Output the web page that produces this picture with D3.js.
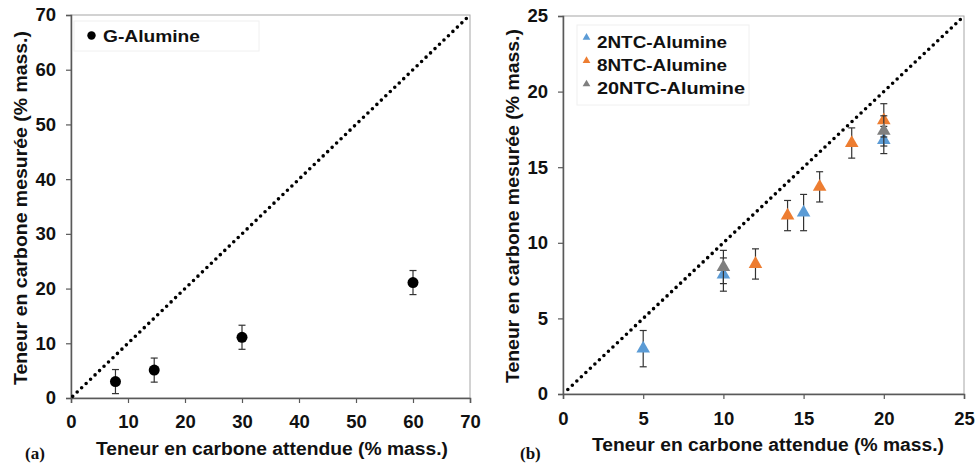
<!DOCTYPE html>
<html><head><meta charset="utf-8">
<script src="https://cdn.jsdelivr.net/npm/d3@7"></script>
<style>
body{margin:0;background:#fff;}
text{font-family:"Liberation Sans",Arial,sans-serif;}
</style></head>
<body><svg id="c" width="977" height="465"></svg>
<script>
// Panel (a)
const gX = [7.8, 14.6, 30, 60];
const gY = [3.0, 5.1, 11.1, 21.1];
const gErr = [2.2, 2.2, 2.2, 2.2];
const aTicks = [0, 10, 20, 30, 40, 50, 60, 70];
// Panel (b)
const ntc2X = [5, 10, 15, 20];
const ntc2Y = [3.0, 7.9, 12.0, 16.8];
const ntc2Err = [1.2, 1.1, 1.2, 0.9];
const ntc8X = [12, 14, 16, 18, 20];
const ntc8Y = [8.6, 11.8, 13.7, 16.6, 18.1];
const ntc8Err = [1.0, 1.0, 1.0, 1.0, 1.1];
const ntc20X = [10, 20];
const ntc20Y = [8.4, 17.4];
const ntc20Err = [1.1, 1.0];
const bTicks = [0, 5, 10, 15, 20, 25];
const seriesNames = ["2NTC-Alumine", "8NTC-Alumine", "20NTC-Alumine"];
const seriesColors = ["#5b9bd5", "#ed7d31", "#7f7f7f"];
const xTitle = "Teneur en carbone attendue (% mass.)";
const yTitle = "Teneur en carbone mesurée (% mass.)";

const svg = d3.select("#c");

function panel(opt) {
  const x = d3.scaleLinear().domain(opt.domain).range(opt.xr);
  const y = d3.scaleLinear().domain(opt.domain).range(opt.yr);
  const g = svg.append("g");
  g.append("rect").attr("x", opt.xr[0]).attr("y", opt.yr[1])
    .attr("width", opt.xr[1] - opt.xr[0]).attr("height", opt.yr[0] - opt.yr[1])
    .attr("fill", "none").attr("stroke", "#a6a6a6").attr("stroke-width", 1);
  const xa = g.append("g").attr("transform", `translate(0,${opt.yr[0]})`)
    .call(d3.axisBottom(x).tickValues(opt.ticks).tickSize(5).tickPadding(opt.xpad));
  const ya = g.append("g").attr("transform", `translate(${opt.xr[0]},0)`)
    .call(d3.axisLeft(y).tickValues(opt.ticks).tickSize(5).tickPadding(opt.ypad));
  [xa, ya].forEach(a => {
    a.select(".domain").attr("stroke", "#595959").attr("stroke-width", 1.5);
    a.selectAll(".tick line").attr("stroke", "#595959").attr("stroke-width", 1.2);
    a.selectAll(".tick text").attr("fill", "#111").style("font-size", "18.5px").style("font-weight", "bold");
  });
  g.append("line").attr("x1", x(0.3)).attr("y1", y(0.3)).attr("x2", x(opt.domain[1])).attr("y2", y(opt.domain[1]))
    .attr("stroke", "#000").attr("stroke-width", 3.6).attr("stroke-linecap", "round")
    .attr("stroke-dasharray", "0 6.2");
  g.append("text").attr("x", opt.xtc).attr("y", opt.yr[0] + 57)
    .attr("text-anchor", "middle").style("font-size", "18px").style("font-weight", "bold").attr("fill", "#111")
    .attr("textLength", opt.xtl).attr("lengthAdjust", "spacingAndGlyphs")
    .text(xTitle);
  g.append("text").attr("transform", `translate(${opt.ytx},${opt.ytc}) rotate(-90)`)
    .attr("text-anchor", "middle").attr("dy", "0.35em").style("font-size", "18px").style("font-weight", "bold").attr("fill", "#111")
    .attr("textLength", 354).attr("lengthAdjust", "spacingAndGlyphs")
    .text(yTitle);
  g.append("text").attr("x", opt.lab[0]).attr("y", opt.lab[1])
    .style("font-family", "'Liberation Serif','Times New Roman',serif").style("font-size", "17px").style("font-weight", "bold")
    .attr("fill", "#111").text(opt.label);
  return {g, x, y};
}

function errBars(g, x, y, xs, ys, es) {
  xs.forEach((xv, i) => {
    const cx = x(xv), t = y(ys[i] + es[i]), b = y(ys[i] - es[i]);
    g.append("line").attr("x1", cx).attr("x2", cx).attr("y1", t).attr("y2", b).attr("stroke", "#333").attr("stroke-width", 1.2);
    [t, b].forEach(v => g.append("line").attr("x1", cx - 3.5).attr("x2", cx + 3.5).attr("y1", v).attr("y2", v).attr("stroke", "#333").attr("stroke-width", 1.2));
  });
}

// Panel a
const A = panel({domain: [0, 70], xr: [71, 470], yr: [398, 15], ticks: aTicks, xpad: 12, ypad: 10, ytx: 21, ytc: 208, xtc: 272, xtl: 352, lab: [25, 459], label: "(a)"});
errBars(A.g, A.x, A.y, gX, gY, gErr);
gX.forEach((xv, i) => A.g.append("circle").attr("cx", A.x(xv)).attr("cy", A.y(gY[i])).attr("r", 5.5).attr("fill", "#000"));
A.g.append("rect").attr("x", 74).attr("y", 21).attr("width", 185).attr("height", 30).attr("fill", "#fff").attr("stroke", "#f0f0f0");
A.g.append("circle").attr("cx", 91.5).attr("cy", 35.5).attr("r", 4.2).attr("fill", "#000");
A.g.append("text").attr("x", 103).attr("y", 41.5).style("font-size", "17px").style("font-weight", "bold").attr("fill", "#111")
  .attr("textLength", 97).attr("lengthAdjust", "spacingAndGlyphs").text("G-Alumine");

// Panel b
const B = panel({domain: [0, 25], xr: [563, 964], yr: [394, 16], ticks: bTicks, xpad: 13, ypad: 10, ytx: 513, ytc: 206, xtc: 768, xtl: 352, lab: [520, 459], label: "(b)"});
const tri = d3.symbol().type(d3.symbolTriangle);
const bSeries = [[ntc2X, ntc2Y, ntc2Err], [ntc8X, ntc8Y, ntc8Err], [ntc20X, ntc20Y, ntc20Err]];
bSeries.forEach((s, k) => {
  errBars(B.g, B.x, B.y, s[0], s[1], s[2]);
  s[0].forEach((xv, i) => B.g.append("path").attr("d", tri.size(80)())
    .attr("transform", `translate(${B.x(xv)},${B.y(s[1][i])})`).attr("fill", seriesColors[k]));
});
B.g.append("rect").attr("x", 577).attr("y", 25).attr("width", 172).attr("height", 80).attr("fill", "#fff").attr("stroke", "#f0f0f0");
const legW = [130, 130, 148];
seriesNames.forEach((n, k) => {
  const cy = 41.5 + k * 23.3;
  B.g.append("path").attr("d", tri.size(26)()).attr("transform", `translate(586.5,${cy - 4})`).attr("fill", seriesColors[k]);
  B.g.append("text").attr("x", 597).attr("y", cy + 6).style("font-size", "17px").style("font-weight", "bold").attr("fill", "#111")
    .attr("textLength", legW[k]).attr("lengthAdjust", "spacingAndGlyphs").text(n);
});
</script></body></html>
